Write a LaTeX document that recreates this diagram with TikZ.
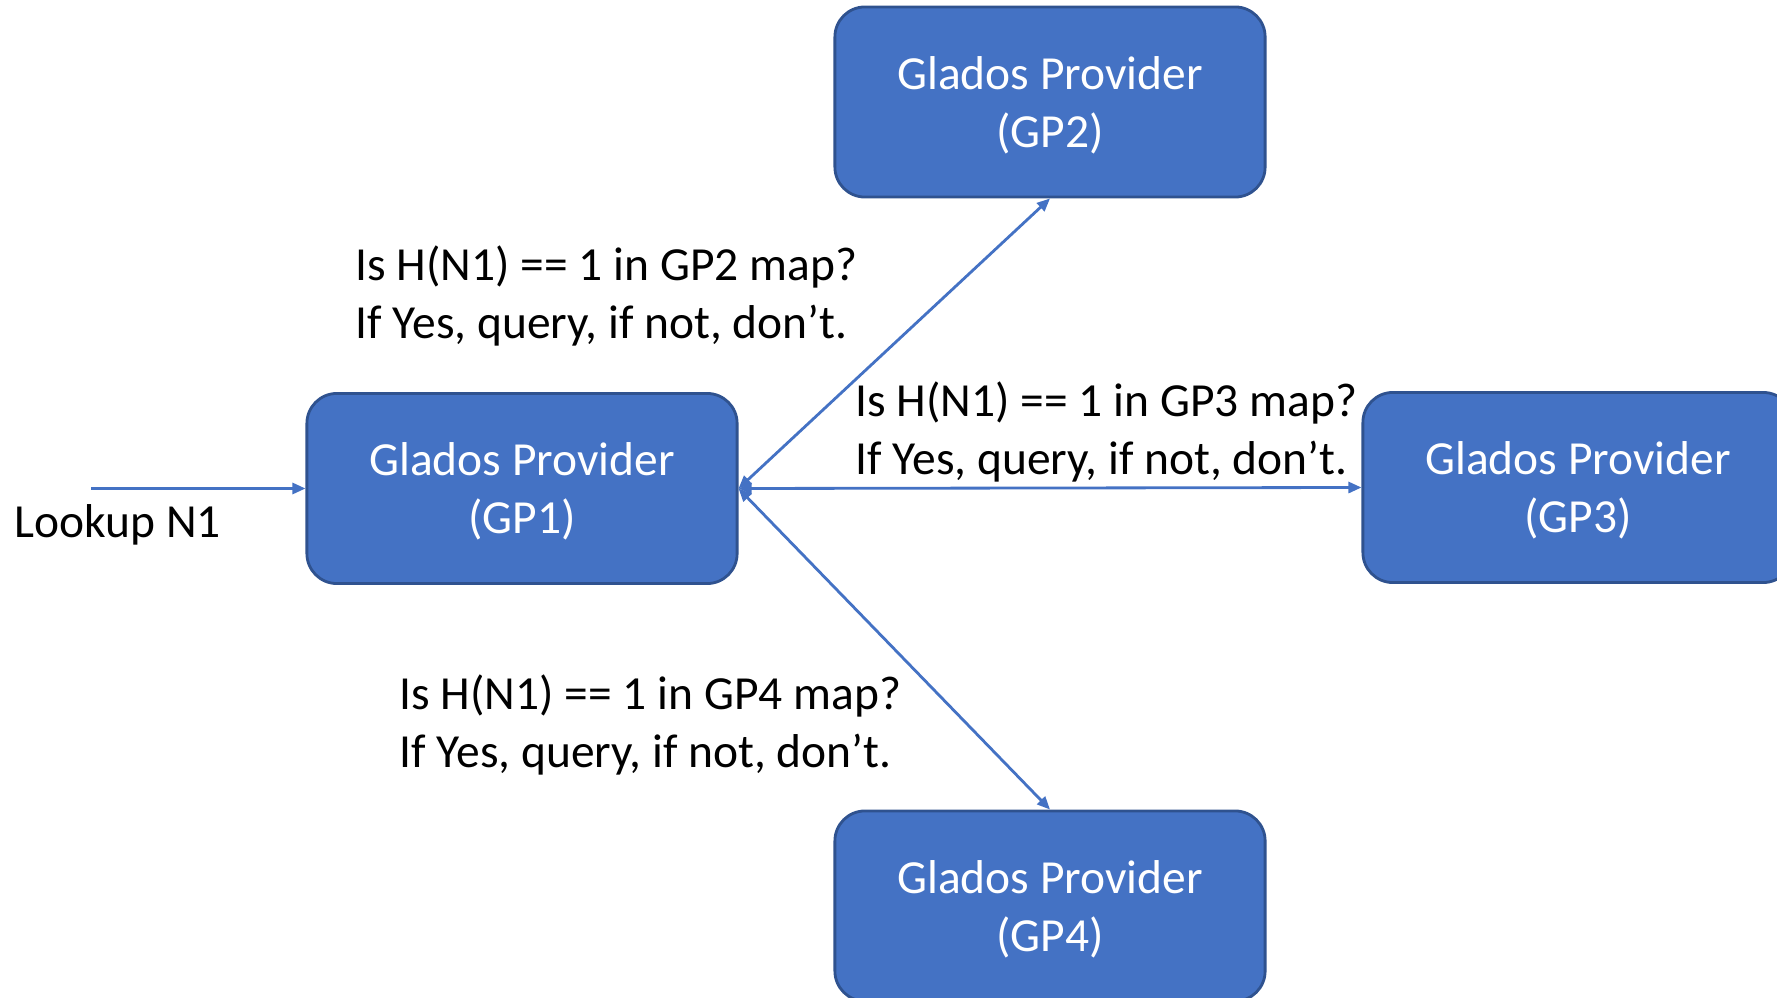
\documentclass[tikz,border=0pt]{standalone}
\usepackage{fontspec}
\setmainfont{Carlito}
\usetikzlibrary{arrows.meta}
\definecolor{boxfill}{HTML}{4472C4}
\definecolor{boxedge}{HTML}{2F528F}
\definecolor{linkcol}{HTML}{4472C4}
% two centred lines, set a little lower than the box centre
\newcommand\provtext[1]{\raisebox{-0.045cm}[\height][\depth]{\begin{tabular}{@{}c@{}}#1\end{tabular}}}
\begin{document}
\begin{tikzpicture}[x=0.01cm,y=-0.01cm,
  provider/.style={draw=boxedge, line width=0.8pt, fill=boxfill, rounded corners=0.3cm,
    minimum width=4.3cm, minimum height=1.9cm, text=white, align=center,
    font=\fontsize{13.5pt}{16.5pt}\selectfont},
  note/.style={anchor=west, inner sep=0pt, align=left, text=black,
    font=\fontsize{13.5pt}{16.5pt}\selectfont},
  link/.style={draw=linkcol, line width=0.8pt,
    arrows={Triangle[length=0.13cm,width=0.11cm]-Triangle[length=0.13cm,width=0.11cm]}},
  inlink/.style={draw=linkcol, line width=0.8pt, -{Triangle[length=0.13cm,width=0.11cm]}}]
  \useasboundingbox (0,0) rectangle (1777,998);
  \clip (0,0) rectangle (1777,998);

  % providers
  \node[provider] (gp1) at (522,488.5) {\provtext{Glados Provider\\(GP1)}};
  \node[provider] (gp2) at (1050,102) {\provtext{Glados Provider\\(GP2)}};
  \node[provider] (gp3) at (1578,487.5) {\provtext{Glados Provider\\(GP3)}};
  \node[provider] (gp4) at (1050,906) {\provtext{Glados Provider\\(GP4)}};

  % incoming lookup
  \coordinate (lk) at (91,488.5);
  \draw[inlink] (lk) -- (gp1.west);
  \node[note] (lkl) at (14,524.5) {Lookup N1};

  % queries to the other providers
  \draw[link] (gp1.east) -- (gp2.south);
  \draw[link] (gp1.east) -- (gp3.west);
  \draw[link] (gp1.east) -- (gp4.north);

  \node[note] (q2) at (355,296) {Is H(N1) == 1 in GP2 map?\\If Yes, query, if not, don’t.};
  \node[note] (q3) at (855,432) {Is H(N1) == 1 in GP3 map?\\If Yes, query, if not, don’t.};
  \node[note] (q4) at (399,725) {Is H(N1) == 1 in GP4 map?\\If Yes, query, if not, don’t.};
\end{tikzpicture}
\end{document}
